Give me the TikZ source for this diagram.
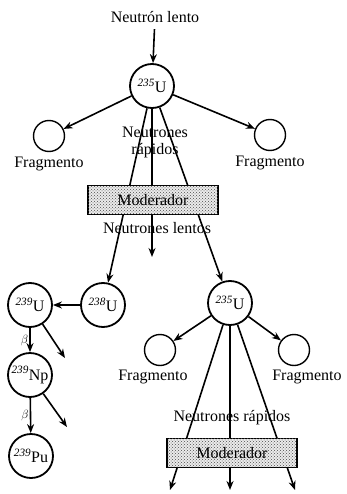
\documentclass[tikz,border=0pt]{standalone}
\usepackage{fontspec}
\setmainfont{Liberation Serif}
\usetikzlibrary{arrows.meta, positioning, patterns}

\begin{document}
\begin{tikzpicture}[
    x=1pt, y=-1pt,
    font=\fontsize{16}{17}\selectfont,
    nucleus/.style={circle, draw, line width=1.8pt, minimum size=44pt, inner sep=0pt},
    fragment/.style={circle, draw, line width=1.4pt, minimum size=31pt},
    moderator/.style={rectangle, draw, line width=1.3pt, minimum width=130pt, minimum height=29pt, fill=black!8, postaction={pattern=crosshatch dots, pattern color=black!70}},
    line/.style={draw, -{Stealth[length=9pt, width=7pt]}, line width=1.6pt},
    beta/.style={font=\fontsize{12}{13}\selectfont, inner sep=1pt}
]
\useasboundingbox (0,0) rectangle (346,494);

% Nodes
\node (lento) at (155,17) {Neutrón lento};
\node [nucleus] (u1) at (152,86) {\textsuperscript{\textit{235}}U};
\node [fragment] (fragL1) at (49,136) {};
\node [fragment] (fragR1) at (270,135) {};
\node [below=1pt of fragL1] {Fragmento};
\node [below=1pt of fragR1] {Fragmento};
\node [align=center] (rapid1) at (155,142) {Neutrones\\rápidos};

\node [nucleus] (u238) at (103,305) {\textsuperscript{\textit{238}}U};
\node [nucleus] (u239) at (30,305) {\textsuperscript{\textit{239}}U};
\node [nucleus] (np) at (30,375) {\textsuperscript{\textit{239}}Np};
\node [nucleus] (pu) at (31,456) {\textsuperscript{\textit{239}}Pu};
\node [nucleus] (u2) at (230,303) {\textsuperscript{\textit{235}}U};
\node [fragment] (fragL2) at (160,350) {};
\node [fragment] (fragR2) at (294,350) {};
\node (labL2) at (153,377) {Fragmento};
\node (labR2) at (307,377) {Fragmento};
\node (rapid2) at (232,418) {Neutrones rápidos};

\coordinate (slow) at (152,257);
\coordinate (outA) at (65,358);
\coordinate (outB) at (67,427);
\coordinate (endL) at (170,490);
\coordinate (endM) at (230,490);
\coordinate (endR) at (295,490);

% Lines
\path [line, shorten <=3pt] (lento) -- (u1);
\path [line] (u1) -- (fragL1);
\path [line] (u1) -- (fragR1);
\path [line] (u1) -- (u238);
\path [line] (u1) -- (slow);
\path [line] (u1) -- (u2);
\path [line] (u238) -- (u239);
\path [line] (u239) -- node [beta, left] {$\beta$} (np);
\path [line] (np) -- node [beta, left] {$\beta$} (pu);
\path [line] (u239) -- (outA);
\path [line] (np) -- (outB);
\path [line] (u2) -- (fragL2);
\path [line] (u2) -- (fragR2);
\path [line] (u2) -- (endL);
\path [line] (u2) -- (endM);
\path [line] (u2) -- (endR);

% Moderators
\node [moderator] (mod1) at (153,200) {Moderador};
\node [moderator] (mod2) at (232,453) {Moderador};
\node (lentos) at (157,228) {Neutrones lentos};

\end{tikzpicture}
\end{document}
